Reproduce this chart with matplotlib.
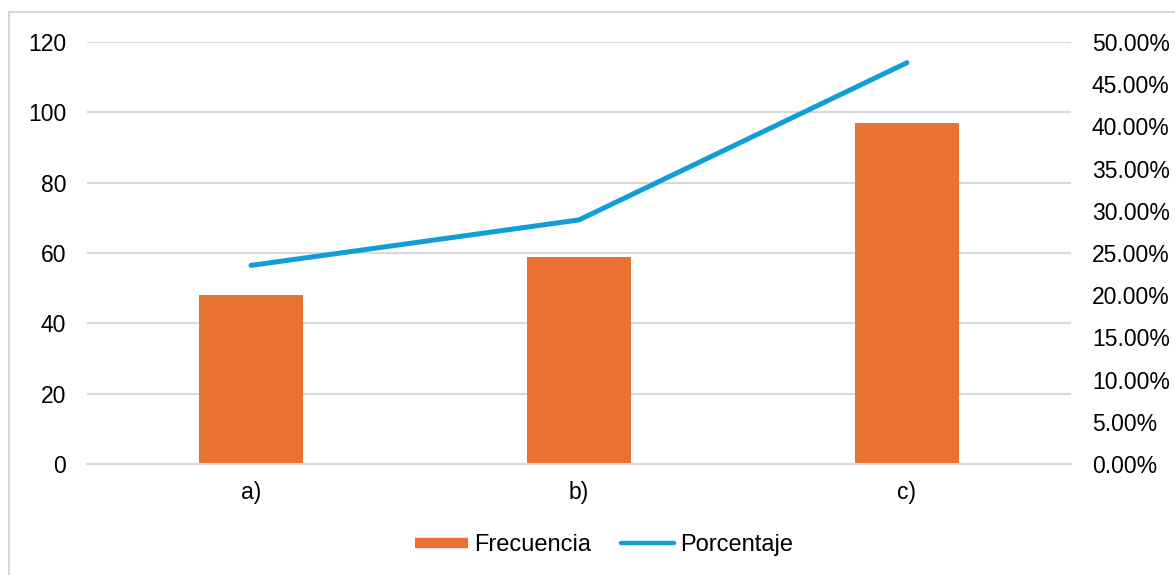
import matplotlib.pyplot as plt
from matplotlib.lines import Line2D
from matplotlib.ticker import FuncFormatter

plt.rcParams['font.family'] = ['Liberation Sans', 'DejaVu Sans']

categorias = ['a)', 'b)', 'c)']
frecuencia = [48, 59, 97]
porcentaje = [f / sum(frecuencia) for f in frecuencia]

naranja = '#E97132'
azul = '#0F9ED5'
gris = '#D9D9D9'
fs = 16.5

fig = plt.figure(figsize=(11.75, 5.75), dpi=100)
ax = fig.add_axes([87 / 1175, 1 - 464 / 575, 984 / 1175, 422 / 575])
ax2 = ax.twinx()

x = range(len(categorias))
ax.bar(x, frecuencia, width=0.315, color=naranja, zorder=2)
ax2.plot(x, porcentaje, color=azul, lw=3.6, solid_capstyle='round', zorder=3)

ax.set_xlim(-0.5, 2.5)
ax.set_ylim(0, 120)
ax.set_yticks(range(0, 121, 20))
ax2.set_ylim(0, 0.5)
ax2.set_yticks([i * 0.05 for i in range(11)])
ax2.yaxis.set_major_formatter(FuncFormatter(lambda v, p: f'{v * 100:.2f}%'))

ax.set_xticks(list(x))
ax.set_xticklabels(categorias)
ax.grid(axis='y', color=gris, lw=1.5, zorder=0)
ax.set_axisbelow(True)

for a in (ax, ax2):
    for s in a.spines.values():
        s.set_visible(False)
    a.tick_params(length=0, labelsize=fs, colors='#000000')
ax.spines['bottom'].set_visible(True)
ax.spines['bottom'].set_color(gris)
ax.spines['bottom'].set_linewidth(1.5)
ax.tick_params(axis='y', pad=15)
ax.tick_params(axis='x', pad=12)
ax2.tick_params(axis='y', pad=15)
ax2.set_zorder(ax.get_zorder() + 1)
ax2.patch.set_visible(False)

# marco del gráfico
fig.add_artist(Line2D([9 / 1175, 9 / 1175], [0, 1 - 12 / 575], color=gris, lw=1.5))
fig.add_artist(Line2D([9 / 1175, 1], [1 - 12 / 575, 1 - 12 / 575], color=gris, lw=1.5))

handles = [
    Line2D([], [], color=naranja, lw=7.5, solid_capstyle='butt'),
    Line2D([], [], color=azul, lw=3.2, solid_capstyle='round'),
]
fig.legend(handles, ['Frecuencia', 'Porcentaje'], loc='center',
           bbox_to_anchor=(604 / 1175, 1 - 545 / 575), ncol=2, frameon=False,
           fontsize=17, handlelength=2.25, handletextpad=0.25,
           columnspacing=1.3)

fig.savefig('out.png', dpi=100)
